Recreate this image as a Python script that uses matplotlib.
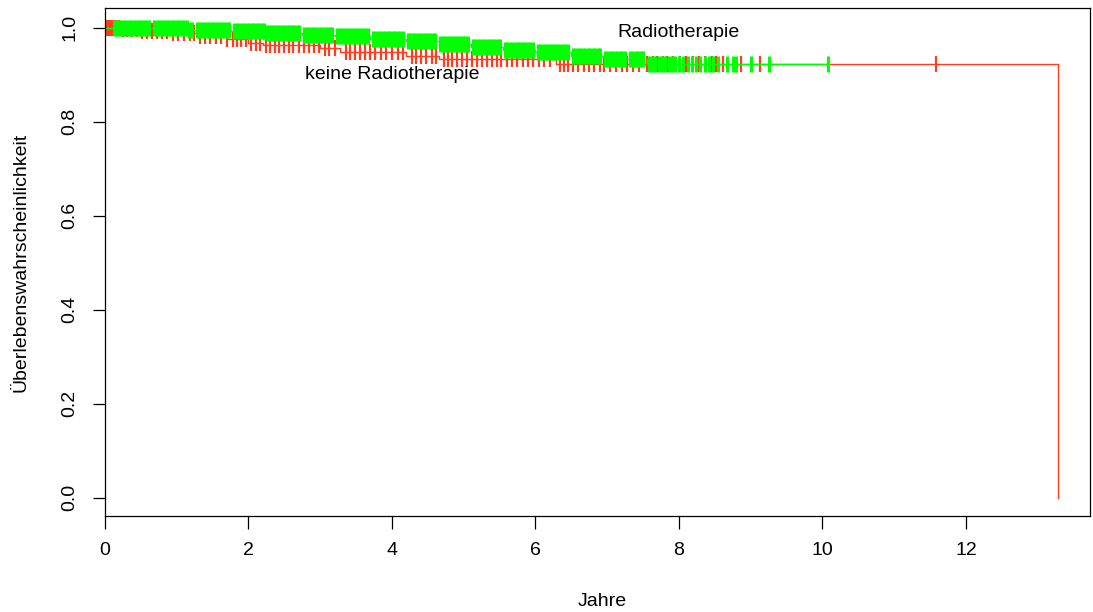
import matplotlib
matplotlib.use("Agg")
import matplotlib.pyplot as plt
import numpy as np

plt.rcParams['font.family'] = ['Liberation Sans', 'DejaVu Sans']

# Kaplan-Meier Stufen: Radiotherapie (gruen)
g_time = [0, 0.45, 1.15, 1.75, 2.25, 2.75, 3.2, 3.7, 4.2, 4.65, 5.1, 5.55, 6.0, 6.5, 6.95, 7.55, 10.08]
g_surv = [1.0, 0.998, 0.995, 0.992, 0.989, 0.985, 0.981, 0.976, 0.971, 0.964, 0.959, 0.953, 0.947, 0.940, 0.933, 0.922, 0.922]

# keine Radiotherapie (rot)
r_time = [0, 0.2, 0.5, 0.9, 1.3, 1.7, 2.0, 2.2, 3.0, 3.27, 4.2, 4.65, 6.28, 13.28]
r_surv = [1.0, 0.996, 0.992, 0.988, 0.983, 0.976, 0.968, 0.962, 0.956, 0.947, 0.940, 0.932, 0.922, 0.0]

# zensierte Beobachtungen
g_cens = [0.12, 0.15, 0.19, 0.22, 0.26, 0.29, 0.33, 0.36, 0.40, 0.43, 0.47, 0.50, 0.54, 0.57, 0.61,
          0.68, 0.72, 0.75, 0.79, 0.82, 0.86, 0.89, 0.93, 0.96, 1.00, 1.03, 1.07, 1.10, 1.14, 1.17,
          1.21, 1.28, 1.31, 1.35, 1.38, 1.42, 1.45, 1.49, 1.52, 1.56, 1.59, 1.63, 1.66, 1.70, 1.73,
          1.80, 1.84, 1.87, 1.91, 1.94, 1.98, 2.01, 2.05, 2.08, 2.12, 2.15, 2.19, 2.22, 2.26, 2.29,
          2.33, 2.36, 2.40, 2.43, 2.47, 2.50, 2.54, 2.57, 2.61, 2.64, 2.68, 2.71, 2.78, 2.82, 2.85,
          2.89, 2.92, 2.96, 2.99, 3.03, 3.06, 3.10, 3.13, 3.17, 3.24, 3.27, 3.31, 3.34, 3.38, 3.41,
          3.45, 3.48, 3.52, 3.55, 3.59, 3.62, 3.66, 3.73, 3.76, 3.80, 3.83, 3.87, 3.90, 3.94, 3.97,
          4.01, 4.04, 4.08, 4.11, 4.15, 4.22, 4.25, 4.29, 4.32, 4.36, 4.39, 4.43, 4.46, 4.50, 4.53,
          4.57, 4.60, 4.67, 4.71, 4.74, 4.78, 4.81, 4.85, 4.88, 4.92, 4.95, 4.99, 5.02, 5.06, 5.13,
          5.16, 5.20, 5.23, 5.27, 5.30, 5.34, 5.37, 5.41, 5.44, 5.48, 5.51, 5.58, 5.61, 5.65, 5.68,
          5.72, 5.75, 5.79, 5.82, 5.86, 5.89, 5.93, 5.96, 6.03, 6.06, 6.10, 6.13, 6.17, 6.20, 6.24,
          6.27, 6.31, 6.34, 6.38, 6.41, 6.45, 6.52, 6.55, 6.59, 6.62, 6.66, 6.69, 6.73, 6.76, 6.80,
          6.83, 6.87, 6.90, 6.97, 7.00, 7.04, 7.07, 7.11, 7.14, 7.18, 7.21, 7.25, 7.32, 7.36, 7.40,
          7.43, 7.47, 7.50, 7.58, 7.62, 7.66, 7.72, 7.76, 7.80, 7.86, 7.90, 7.95, 8.00, 8.06, 8.12,
          8.18, 8.24, 8.30, 8.36, 8.42, 8.48, 8.54, 8.67, 8.76, 8.80, 9.01, 9.25, 10.08]

r_cens = [0.02, 0.04, 0.06, 0.08, 0.10, 0.13, 0.16, 0.19, 0.25, 0.31, 0.38, 0.44, 0.52, 0.58, 0.65,
          0.73, 0.80, 0.86, 0.95, 1.02, 1.10, 1.18, 1.24, 1.33, 1.40, 1.47, 1.55, 1.62, 1.70, 1.78,
          1.84, 1.90, 1.96, 2.04, 2.10, 2.16, 2.24, 2.30, 2.37, 2.43, 2.50, 2.56, 2.62, 2.70, 2.78,
          2.85, 2.92, 2.98, 3.06, 3.12, 3.20, 3.36, 3.42, 3.48, 3.55, 3.62, 3.70, 3.76, 3.85, 3.92,
          4.00, 4.08, 4.15, 4.28, 4.34, 4.40, 4.48, 4.56, 4.62, 4.72, 4.78, 4.84, 4.90, 4.98, 5.05,
          5.12, 5.18, 5.25, 5.32, 5.40, 5.46, 5.52, 5.60, 5.68, 5.74, 5.82, 5.90, 5.97, 6.05, 6.12,
          6.20, 6.34, 6.40, 6.46, 6.52, 6.60, 6.68, 6.75, 6.82, 6.90, 6.96, 7.04, 7.12, 7.20, 7.28,
          7.36, 7.45, 7.56, 7.64, 7.70, 7.78, 7.84, 7.92, 8.02, 8.10, 8.20, 8.28, 8.36, 8.46, 8.52,
          8.62, 8.86, 9.13, 11.58]

x_ticks = [0, 2, 4, 6, 8, 10, 12]
y_ticks = [0.0, 0.2, 0.4, 0.6, 0.8, 1.0]

RED = '#FF3D1F'
GREEN = '#00FF00'


def surv_at(times, surv, t):
    i = np.searchsorted(times, t, side='right') - 1
    return np.array(surv)[i]


fig = plt.figure(figsize=(10.93, 6.12), dpi=100)
ax = fig.add_axes([105/1093, 1 - 516/612, 985/1093, 508/612])

# rot zuerst, gruen drueber
ax.step(r_time, r_surv, where='post', color=RED, lw=1.0)
ax.plot(r_cens, surv_at(r_time, r_surv, r_cens), ls='none', marker='|',
        ms=11, mew=1.6, color=RED)
ax.step(g_time, g_surv, where='post', color=GREEN, lw=1.0)
ax.plot(g_cens, surv_at(g_time, g_surv, g_cens), ls='none', marker='|',
        ms=11, mew=2.2, color=GREEN)

ax.text(8.0, 0.99, 'Radiotherapie', ha='center', va='center', fontsize=14)
ax.text(4.0, 0.899, 'keine Radiotherapie', ha='center', va='center', fontsize=14)

ax.set_xlim(0, 13.73)
ax.set_ylim(-0.039, 1.0415)
ax.set_xticks(x_ticks)
ax.set_xticklabels([str(t) for t in x_ticks])
ax.set_yticks(y_ticks)
ax.set_yticklabels(['%.1f' % t for t in y_ticks], rotation=90, va='center')
ax.tick_params(direction='out', length=9, width=0.9, labelsize=14, pad=10)
for s in ax.spines.values():
    s.set_linewidth(0.9)

fig.text(602/1093, 1 - 601/612, 'Jahre', ha='center', va='center', fontsize=14)
fig.text(21/1093, 1 - 262/612, 'Überlebenswahrscheinlichkeit', ha='center', va='center',
         rotation=90, fontsize=14)

fig.savefig('out.png', dpi=100)
